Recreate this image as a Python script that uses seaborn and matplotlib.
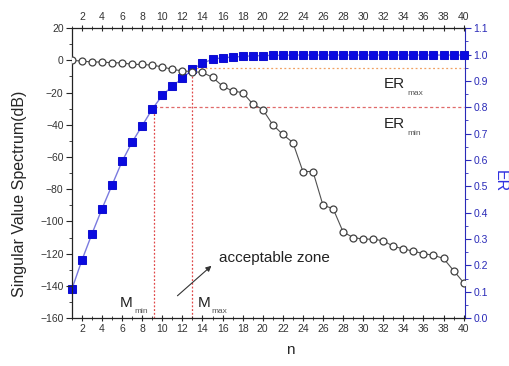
import numpy as np
import pandas as pd
import matplotlib
matplotlib.use('Agg')
import matplotlib.pyplot as plt
import seaborn as sns
from matplotlib.ticker import MultipleLocator

# valores
n = list(range(1, 41))
sv_db = [0, -0.4, -1, -1, -1.5, -1.5, -2.5, -2.5, -3, -4,
         -5.6, -6.5, -7, -7.5, -10.5, -16, -19, -20, -27, -30.5,
         -40, -46, -51, -69, -69, -90, -92, -106.5, -110, -111,
         -111, -112, -115.5, -117, -118.5, -120, -121, -123, -130.5, -138]
er = [0.11, 0.22, 0.32, 0.415, 0.505, 0.595, 0.668, 0.73, 0.793, 0.845,
      0.88, 0.91, 0.944, 0.967, 0.982, 0.988, 0.99, 0.993, 0.995, 0.996,
      0.997, 0.997, 0.998, 0.998, 0.998, 0.998, 0.998, 0.998, 0.998, 0.998,
      0.998, 0.998, 0.998, 0.998, 0.998, 0.998, 0.998, 0.998, 0.998, 0.998]
er_min = 0.8
er_max = 0.95
m_min = 9.2
m_max = 13

df = pd.DataFrame({'n': n, 'sv': sv_db, 'er': er})

sns.set_style('ticks')
plt.rcParams['font.family'] = ['Liberation Sans', 'DejaVu Sans']

fig = plt.figure(figsize=(5.1, 3.66), dpi=100)
ax = fig.add_axes([0.141, 0.131, 0.771, 0.792])
ax2 = ax.twinx()

sns.lineplot(data=df, x='n', y='sv', ax=ax, color='#505050', lw=0.8,
             marker='o', markersize=5, markerfacecolor='white',
             markeredgecolor='#404040', markeredgewidth=0.9, zorder=3)
sns.lineplot(data=df, x='n', y='er', ax=ax2, color='#7a7ae0', lw=1.0,
             marker='s', markersize=5.2, markerfacecolor='#0a0ae0',
             markeredgecolor='#1010d0', zorder=4, clip_on=False)

# linhas de limite
ax2.plot([m_max, 40], [er_max, er_max], ls=(0, (1.5, 2)), color='#f0a060', lw=0.9)
ax2.plot([m_min, 40], [er_min, er_min], ls=(0, (2.5, 2)), color='#e06a6a', lw=0.9)
ax2.plot([m_min, m_min], [0, er_min], ls=(0, (1.5, 1.5)), color='#e04848', lw=0.9)
ax2.plot([m_max, m_max], [0, er_max], ls=(0, (1.5, 1.5)), color='#e04848', lw=0.9)

ax.set_xlim(1, 40.15)
ax.set_ylim(-160, 20)
ax2.set_ylim(0, 1.1)

ax.xaxis.set_major_locator(MultipleLocator(2))
ax.xaxis.set_minor_locator(MultipleLocator(1))
ax.yaxis.set_major_locator(MultipleLocator(20))
ax.yaxis.set_minor_locator(MultipleLocator(10))
ax2.yaxis.set_major_locator(MultipleLocator(0.1))
ax2.yaxis.set_minor_locator(MultipleLocator(0.05))
ax2.yaxis.set_major_formatter(plt.FuncFormatter(lambda v, p: f'{v:.1f}'))

ax.tick_params(axis='x', which='both', top=True, labeltop=True, direction='inout',
               labelsize=7.5, labelcolor='#333333', pad=2)
ax.tick_params(axis='x', which='major', length=5)
ax.tick_params(axis='x', which='minor', length=3)
ax.tick_params(axis='y', which='major', direction='out', length=4, labelsize=7.5,
               labelcolor='#333333', pad=2)
ax.tick_params(axis='y', which='minor', direction='out', length=2)
ax2.tick_params(axis='y', which='major', direction='out', length=4, labelsize=7.5,
                colors='#2a2ab8', pad=2)
ax2.tick_params(axis='y', which='minor', direction='out', length=2, colors='#2a2ab8')

for s in ['left', 'top', 'bottom']:
    ax2.spines[s].set_visible(False)
ax2.spines['right'].set_color('#2a2ab8')
for s in ['left', 'top', 'bottom']:
    ax.spines[s].set_color('#222222')
    ax.spines[s].set_linewidth(0.9)
ax.spines['right'].set_visible(False)

ax.set_xlabel('n', fontsize=11)
ax.set_ylabel('Singular Value Spectrum(dB)', fontsize=11.5)
ax2.set_ylabel('ER', fontsize=11.5, color='#3030e0', rotation=270)
ax.xaxis.set_label_coords(0.555, -0.085)
ax.yaxis.set_label_coords(-0.115, 0.43)
ax2.yaxis.set_label_coords(1.108, 0.474)
ax.set_zorder(ax2.get_zorder() + 1)
ax.patch.set_visible(False)

# textos
ax.text(32.0, -16.9, 'ER', fontsize=11, color='#222222')
ax.text(34.4, -21.3, 'max', fontsize=6, color='#555555')
ax.text(32.0, -41.9, 'ER', fontsize=11, color='#222222')
ax.text(34.4, -46.3, 'min', fontsize=6, color='#555555')
ax.text(5.8, -153, 'M', fontsize=11, color='#222222')
ax.text(7.2, -157, 'min', fontsize=6, color='#555555')
ax.text(13.5, -153, 'M', fontsize=11, color='#222222')
ax.text(14.9, -157, 'max', fontsize=6, color='#555555')
ax.text(15.6, -122.5, 'acceptable zone', fontsize=11, color='#222222', va='center')
ax.annotate('', xy=(15.1, -126.4), xytext=(11.3, -147.3),
            arrowprops=dict(arrowstyle='-|>', color='#333333', lw=0.8,
                            mutation_scale=8))

fig.savefig('out.png', dpi=100)
